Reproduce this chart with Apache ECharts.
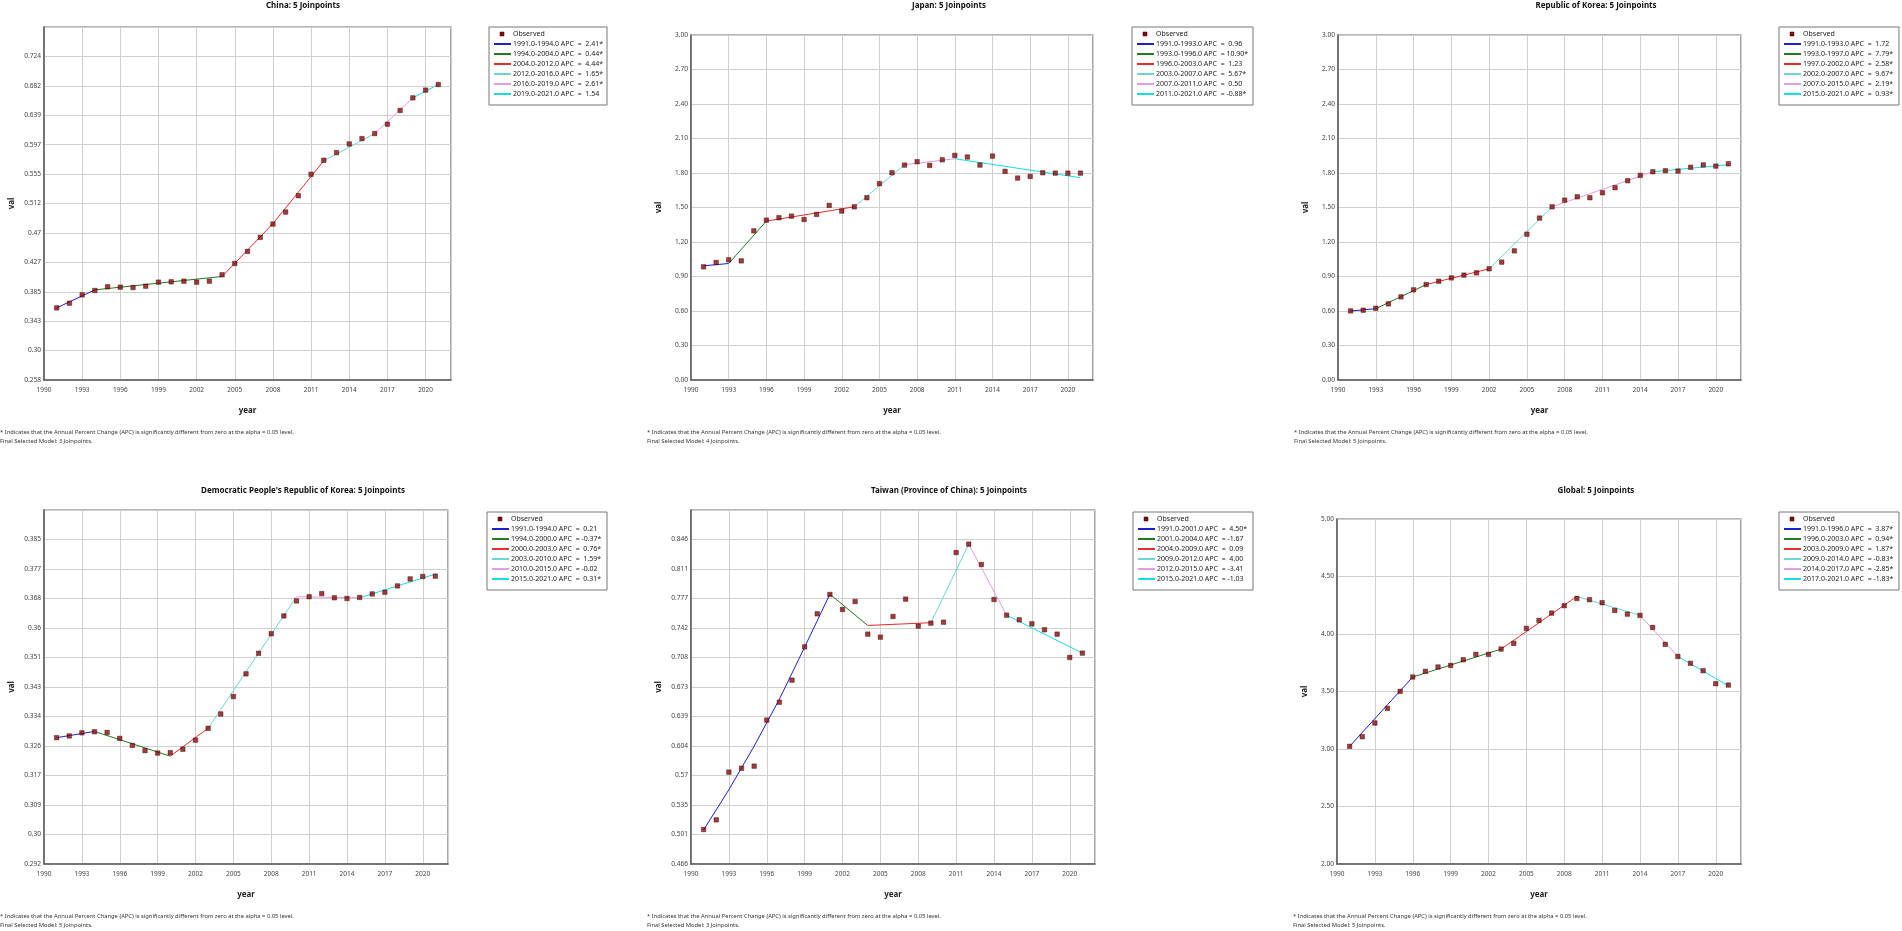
<!DOCTYPE html>
<html>
<head>
<meta charset="utf-8">
<title>Joinpoint trends</title>
<script src="https://cdn.jsdelivr.net/npm/echarts@6/dist/echarts.min.js"></script>
<style>
html, body { margin: 0; padding: 0; background: #fff; }
#chart { width: 1902px; height: 931px; }
</style>
</head>
<body>
<div id="chart"></div>
<script>
// observed years and the x tick labels
var years = [1991, 1992, 1993, 1994, 1995, 1996, 1997, 1998, 1999, 2000, 2001, 2002, 2003, 2004, 2005, 2006,
             2007, 2008, 2009, 2010, 2011, 2012, 2013, 2014, 2015, 2016, 2017, 2018, 2019, 2020, 2021];
var xTickLabels = [1990, 1993, 1996, 1999, 2002, 2005, 2008, 2011, 2014, 2017, 2020];

// China
var chinaObserved = [0.3618, 0.3685, 0.3805, 0.3868, 0.3921, 0.3916, 0.3911, 0.3930, 0.3988, 0.3993, 0.4002,
                     0.3988, 0.4002, 0.4094, 0.4257, 0.4430, 0.4632, 0.4824, 0.4997, 0.5232, 0.5540, 0.5742,
                     0.5852, 0.5977, 0.6054, 0.6126, 0.6261, 0.6458, 0.6640, 0.6751, 0.6832];
var chinaFit = [
  [[1991, 0.3618], [1994, 0.3877]],
  [[1994, 0.3877], [2004, 0.4070]],
  [[2004, 0.4070], [2008, 0.4830], [2012, 0.5735]],
  [[2012, 0.5735], [2016, 0.6126]],
  [[2016, 0.6126], [2019, 0.6640]],
  [[2019, 0.6640], [2021, 0.6832]]
];
var chinaApc = ['1991.0-1994.0 APC  =  2.41*', '1994.0-2004.0 APC  =  0.44*', '2004.0-2012.0 APC  =  4.44*',
                '2012.0-2016.0 APC  =  1.65*', '2016.0-2019.0 APC  =  2.61*', '2019.0-2021.0 APC  =  1.54'];
var chinaYTicks = ['0.258', '0.30', '0.343', '0.385', '0.427', '0.47', '0.512', '0.555', '0.597', '0.639', '0.682', '0.724', ''];

// Japan
var japanObserved = [0.984, 1.022, 1.045, 1.036, 1.297, 1.390, 1.411, 1.425, 1.396, 1.440, 1.518, 1.469, 1.506,
                     1.585, 1.707, 1.802, 1.869, 1.898, 1.866, 1.915, 1.953, 1.939, 1.869, 1.947, 1.814, 1.756,
                     1.770, 1.802, 1.799, 1.799, 1.799];
var japanFit = [
  [[1991, 0.993], [1993, 1.013]],
  [[1993, 1.013], [1996, 1.382]],
  [[1996, 1.382], [2003, 1.506]],
  [[2003, 1.506], [2007, 1.872]],
  [[2007, 1.872], [2011, 1.924]],
  [[2011, 1.924], [2021, 1.759]]
];
var japanApc = ['1991.0-1993.0 APC  =  0.96', '1993.0-1996.0 APC  = 10.90*', '1996.0-2003.0 APC  =  1.23',
                '2003.0-2007.0 APC  =  5.67*', '2007.0-2011.0 APC  =  0.50', '2011.0-2021.0 APC  = -0.88*'];
var japanYTicks = ['0.00', '0.30', '0.60', '0.90', '1.20', '1.50', '1.80', '2.10', '2.40', '2.70', '3.00'];

// Republic of Korea
var koreaObserved = [0.601, 0.607, 0.624, 0.662, 0.723, 0.784, 0.830, 0.859, 0.888, 0.912, 0.932, 0.967, 1.025,
                     1.123, 1.268, 1.408, 1.506, 1.564, 1.593, 1.585, 1.628, 1.672, 1.733, 1.779, 1.811, 1.820,
                     1.817, 1.850, 1.870, 1.860, 1.880];
var koreaFit = [
  [[1991, 0.600], [1993, 0.620]],
  [[1993, 0.620], [1997, 0.830]],
  [[1997, 0.830], [2002, 0.967]],
  [[2002, 0.967], [2007, 1.506]],
  [[2007, 1.506], [2015, 1.811]],
  [[2015, 1.811], [2021, 1.872]]
];
var koreaApc = ['1991.0-1993.0 APC  =  1.72', '1993.0-1997.0 APC  =  7.79*', '1997.0-2002.0 APC  =  2.58*',
                '2002.0-2007.0 APC  =  9.67*', '2007.0-2015.0 APC  =  2.19*', '2015.0-2021.0 APC  =  0.93*'];

// Democratic People's Republic of Korea
var dprkObserved = [0.3282, 0.3287, 0.3296, 0.3299, 0.3297, 0.3280, 0.3260, 0.3245, 0.3238, 0.3239, 0.3249,
                    0.3275, 0.3309, 0.3350, 0.3400, 0.3465, 0.3524, 0.3580, 0.3631, 0.3674, 0.3686, 0.3695,
                    0.3683, 0.3681, 0.3684, 0.3694, 0.3699, 0.3717, 0.3737, 0.3744, 0.3745];
var dprkFit = [
  [[1991, 0.3282], [1994, 0.3300]],
  [[1994, 0.3300], [2000, 0.3229]],
  [[2000, 0.3229], [2003, 0.3309]],
  [[2003, 0.3309], [2010, 0.3686]],
  [[2010, 0.3686], [2015, 0.3683]],
  [[2015, 0.3683], [2021, 0.3751]]
];
var dprkApc = ['1991.0-1994.0 APC  =  0.21', '1994.0-2000.0 APC  = -0.37*', '2000.0-2003.0 APC  =  0.76*',
               '2003.0-2010.0 APC  =  1.59*', '2010.0-2015.0 APC  = -0.02', '2015.0-2021.0 APC  =  0.31*'];
var dprkYTicks = ['0.292', '0.30', '0.309', '0.317', '0.326', '0.334', '0.343', '0.351', '0.36', '0.368', '0.377', '0.385', ''];

// Taiwan (Province of China)
var taiwanObserved = [0.5064, 0.5177, 0.5736, 0.5782, 0.5806, 0.6345, 0.6555, 0.6813, 0.7203, 0.7590, 0.7817,
                      0.7641, 0.7734, 0.7352, 0.7317, 0.7559, 0.7762, 0.7446, 0.7481, 0.7492, 0.8308, 0.8406,
                      0.8168, 0.7758, 0.7574, 0.7520, 0.7473, 0.7403, 0.7352, 0.7079, 0.7130];
var taiwanFit = [
  [[1991, 0.506], [1993, 0.553], [1995, 0.604], [1997, 0.659], [1999, 0.720], [2001, 0.782]],
  [[2001, 0.782], [2004, 0.7454]],
  [[2004, 0.7454], [2009, 0.7486]],
  [[2009, 0.7486], [2012, 0.8406]],
  [[2012, 0.8406], [2015, 0.7574]],
  [[2015, 0.7574], [2021, 0.7130]]
];
var taiwanApc = ['1991.0-2001.0 APC  =  4.50*', '2001.0-2004.0 APC  = -1.67', '2004.0-2009.0 APC  =  0.09',
                 '2009.0-2012.0 APC  =  4.00', '2012.0-2015.0 APC  = -3.41', '2015.0-2021.0 APC  = -1.03'];
var taiwanYTicks = ['0.466', '0.501', '0.535', '0.57', '0.604', '0.639', '0.673', '0.708', '0.742', '0.777', '0.811', '0.846', ''];

// Global
var globalObserved = [3.023, 3.107, 3.226, 3.353, 3.501, 3.626, 3.675, 3.713, 3.727, 3.776, 3.823, 3.823, 3.869,
                      3.918, 4.049, 4.118, 4.182, 4.246, 4.309, 4.298, 4.272, 4.205, 4.173, 4.162, 4.057, 3.910,
                      3.805, 3.745, 3.681, 3.568, 3.556];
var globalFit = [
  [[1991, 3.023], [1996, 3.626]],
  [[1996, 3.626], [2003, 3.869]],
  [[2003, 3.869], [2009, 4.327]],
  [[2009, 4.327], [2014, 4.162]],
  [[2014, 4.162], [2017, 3.805]],
  [[2017, 3.805], [2021, 3.550]]
];
var globalApc = ['1991.0-1996.0 APC  =  3.87*', '1996.0-2003.0 APC  =  0.94*', '2003.0-2009.0 APC  =  1.87*',
                 '2009.0-2014.0 APC  = -0.83*', '2014.0-2017.0 APC  = -2.85*', '2017.0-2021.0 APC  = -1.83*'];
var globalYTicks = ['2.00', '2.50', '3.00', '3.50', '4.00', '4.50', '5.00'];

var note = '* Indicates that the Annual Percent Change (APC) is significantly different from zero at the alpha = 0.05 level.';
var segColors = ['#1f1fd2', '#227a22', '#ee2a2a', '#6cd6cf', '#e39be3', '#14dde6'];
var FONT = '"Noto Sans", "Open Sans", sans-serif';

var panels = [
  {title: 'China: 5 Joinpoints', obs: chinaObserved, fit: chinaFit, apc: chinaApc,
   yMin: 0.258, yStep: 0.04233, yTicks: chinaYTicks, model: 'Final Selected Model: 3 Joinpoints.',
   grid: {left: 44, top: 27, width: 407, height: 353}, tx: 303, ty: 6, lx: 489, ly: 27, lw: 118, fx: 0, fy: 432},
  {title: 'Japan: 5 Joinpoints', obs: japanObserved, fit: japanFit, apc: japanApc,
   yMin: 0, yStep: 0.3, yTicks: japanYTicks, model: 'Final Selected Model: 4 Joinpoints.',
   grid: {left: 691, top: 35, width: 402, height: 345}, tx: 949, ty: 6, lx: 1132, ly: 27, lw: 121, fx: 647, fy: 432},
  {title: 'Republic of Korea: 5 Joinpoints', obs: koreaObserved, fit: koreaFit, apc: koreaApc,
   yMin: 0, yStep: 0.3, yTicks: japanYTicks, model: 'Final Selected Model: 5 Joinpoints.',
   grid: {left: 1338, top: 35, width: 403, height: 345}, tx: 1596, ty: 6, lx: 1779, ly: 27, lw: 120, fx: 1294, fy: 432},
  {title: "Democratic People's Republic of Korea: 5 Joinpoints", obs: dprkObserved, fit: dprkFit, apc: dprkApc,
   yMin: 0.292, yStep: 0.008455, yTicks: dprkYTicks, model: 'Final Selected Model: 5 Joinpoints.',
   grid: {left: 44, top: 510, width: 404, height: 354}, tx: 303, ty: 491, lx: 487, ly: 512, lw: 120, fx: 0, fy: 916},
  {title: 'Taiwan (Province of China): 5 Joinpoints', obs: taiwanObserved, fit: taiwanFit, apc: taiwanApc,
   yMin: 0.466, yStep: 0.03455, yTicks: taiwanYTicks, model: 'Final Selected Model: 3 Joinpoints.',
   grid: {left: 691, top: 510, width: 404, height: 354}, tx: 949, ty: 491, lx: 1133, ly: 512, lw: 120, fx: 647, fy: 916},
  {title: 'Global: 5 Joinpoints', obs: globalObserved, fit: globalFit, apc: globalApc,
   yMin: 2, yStep: 0.5, yTicks: globalYTicks, model: 'Final Selected Model: 5 Joinpoints.',
   grid: {left: 1337, top: 519, width: 404, height: 345}, tx: 1596, ty: 491, lx: 1779, ly: 512, lw: 120, fx: 1293, fy: 916}
];

function txt(x, y, s, size, weight, align, color) {
  return {
    type: 'text', x: x, y: y, silent: true,
    style: {text: s, fontSize: size, fontWeight: weight, fontFamily: FONT, fill: color,
            align: align, textAlign: align, verticalAlign: 'middle', textVerticalAlign: 'middle'}
  };
}

var option = {
  animation: false,
  backgroundColor: '#fff',
  textStyle: {fontFamily: FONT},
  grid: [], xAxis: [], yAxis: [], series: [],
  graphic: {elements: []}
};
var gfx = option.graphic.elements;

panels.forEach(function (p, i) {
  var g = p.grid;
  option.grid.push({left: g.left, top: g.top, width: g.width, height: g.height,
                    show: true, borderColor: '#6e6e6e', borderWidth: 1.2});

  option.xAxis.push({
    type: 'value', gridIndex: i, min: 1990, max: 2022, interval: 3,
    name: 'year', nameLocation: 'middle', nameGap: 27,
    nameTextStyle: {fontSize: 8, fontWeight: 'bold', color: '#222'},
    axisLine: {show: true, onZero: false, lineStyle: {color: '#5c5c5c', width: 1.5}},
    axisTick: {show: false},
    axisLabel: {fontSize: 6.5, color: '#444', margin: 7,
                formatter: function (v) { return xTickLabels.indexOf(v) >= 0 ? String(v) : ''; }},
    splitLine: {show: true, lineStyle: {color: '#cfcfcf', width: 1}}
  });

  var yMax = p.yMin + p.yStep * (p.yTicks.length - 1);
  option.yAxis.push({
    type: 'value', gridIndex: i, min: p.yMin, max: yMax, interval: p.yStep,
    name: 'val', nameLocation: 'middle', nameGap: 28, nameRotate: 90,
    nameTextStyle: {fontSize: 8, fontWeight: 'bold', color: '#222'},
    axisLine: {show: true, lineStyle: {color: '#5c5c5c', width: 1.5}},
    axisTick: {show: false},
    axisLabel: {fontSize: 6.6, color: '#444', margin: 3,
                formatter: function (v) {
                  var k = Math.round((v - p.yMin) / p.yStep);
                  return p.yTicks[k] || '';
                }},
    splitLine: {show: true, lineStyle: {color: '#cfcfcf', width: 1}}
  });

  p.fit.forEach(function (seg, s) {
    option.series.push({
      type: 'line', name: p.apc[s], xAxisIndex: i, yAxisIndex: i,
      data: seg, symbol: 'none', silent: true, z: 2,
      lineStyle: {color: segColors[s], width: 1}
    });
  });

  option.series.push({
    type: 'scatter', name: 'Observed', xAxisIndex: i, yAxisIndex: i, z: 3,
    data: years.map(function (y, k) { return [y, p.obs[k]]; }),
    symbol: 'rect', symbolSize: 4.5,
    itemStyle: {color: '#8b0a0a', borderColor: '#2e0000', borderWidth: 0.5}
  });

  // title
  gfx.push(txt(p.tx, p.ty, p.title, 8, 'bold', 'center', '#111'));

  // legend box
  var kids = [
    {type: 'rect', shape: {x: 0, y: 0, width: p.lw, height: 78},
     style: {fill: '#fff', stroke: '#767676', lineWidth: 1}},
    {type: 'rect', shape: {x: 11, y: 5, width: 4, height: 4},
     style: {fill: '#8b0a0a', stroke: '#2e0000', lineWidth: 0.5}},
    txt(24, 7, 'Observed', 7, 'normal', 'left', '#222')
  ];
  p.apc.forEach(function (label, s) {
    var yy = 17 + s * 10;
    kids.push({type: 'line', shape: {x1: 5, y1: yy, x2: 22, y2: yy},
               style: {stroke: segColors[s], lineWidth: 2}});
    kids.push(txt(24, yy, label, 7, 'normal', 'left', '#222'));
  });
  gfx.push({type: 'group', x: p.lx, y: p.ly, silent: true, children: kids});

  // footnotes
  gfx.push(txt(p.fx, p.fy, note, 5.8, 'normal', 'left', '#333'));
  gfx.push(txt(p.fx, p.fy + 9, p.model, 5.8, 'normal', 'left', '#333'));
});

var chart = echarts.init(document.getElementById('chart'));
chart.setOption(option);
</script>
</body>
</html>
